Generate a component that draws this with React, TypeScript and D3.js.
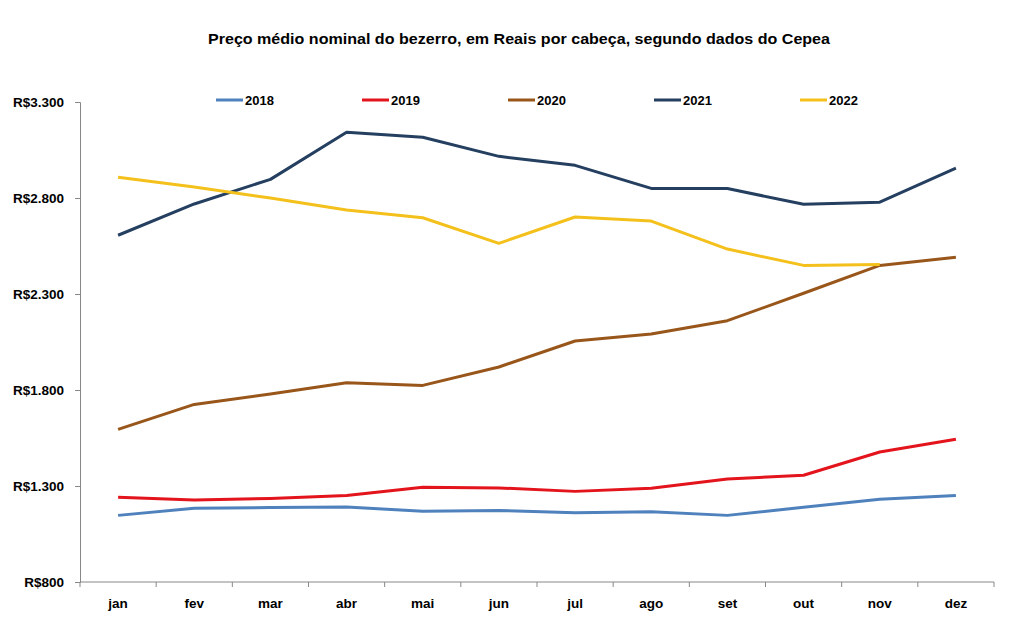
import React, { useEffect, useRef } from "react";
import * as d3 from "d3";

const months = ["jan", "fev", "mar", "abr", "mai", "jun", "jul", "ago", "set", "out", "nov", "dez"];
const yTicks = [800, 1300, 1800, 2300, 2800, 3300];

const years = ["2018", "2019", "2020", "2021", "2022"];
const values2018 = [1147, 1184, 1188, 1191, 1168, 1173, 1161, 1166, 1147, 1189, 1231, 1250];
const values2019 = [1241, 1227, 1235, 1250, 1293, 1290, 1272, 1288, 1336, 1356, 1477, 1543];
const values2020 = [1595, 1725, 1779, 1838, 1824, 1920, 2055, 2092, 2161, 2304, 2449, 2491];
const values2021 = [2606, 2769, 2897, 3142, 3116, 3017, 2970, 2850, 2849, 2767, 2778, 2955];
const values2022 = [2908, 2857, 2800, 2737, 2697, 2564, 2701, 2680, 2534, 2449, 2453];
const colors = ["#4F81BD", "#E3141C", "#99561A", "#243F60", "#F4C01B"];

const title = "Preço médio nominal do bezerro, em Reais por cabeça, segundo dados do Cepea";

const App: React.FC = () => {
  const svgRef = useRef<SVGSVGElement>(null);

  useEffect(() => {
    if (!svgRef.current) return;
    const width = 1012;
    const height = 631;
    const margin = { top: 102, right: 18, bottom: 49, left: 80 };
    const font = "'Liberation Sans', Arial, sans-serif";

    const svg = d3.select(svgRef.current);
    svg.selectAll("*").remove();
    svg
      .attr("width", width)
      .attr("height", height)
      .style("position", "absolute")
      .style("left", "0px")
      .style("top", "0px");

    svg.append("rect").attr("width", width).attr("height", height).attr("fill", "#fff");

    const x = d3
      .scaleBand<string>()
      .domain(months)
      .range([margin.left, width - margin.right]);

    const y = d3
      .scaleLinear()
      .domain([800, 3300])
      .range([height - margin.bottom, margin.top]);

    // title
    svg
      .append("text")
      .attr("x", 519)
      .attr("y", 44)
      .attr("text-anchor", "middle")
      .attr("font-family", font)
      .attr("font-weight", "bold")
      .attr("font-size", 15.5)
      .attr("textLength", 622)
      .attr("lengthAdjust", "spacingAndGlyphs")
      .text(title);

    // y axis
    const yAxis = svg
      .append("g")
      .attr("transform", `translate(${margin.left},0)`)
      .call(
        d3
          .axisLeft(y)
          .tickValues(yTicks)
          .tickSize(5)
          .tickPadding(11)
          .tickFormat((d) => "R$" + d3.format(",")(d as number).replace(/,/g, "."))
      );
    yAxis.select(".domain").attr("stroke", "#888");
    yAxis.selectAll(".tick line").attr("stroke", "#888");
    yAxis
      .selectAll("text")
      .attr("font-family", font)
      .attr("font-weight", "bold")
      .attr("font-size", 13.5)
      .attr("fill", "#000");

    // x axis with ticks on band edges
    const xAxisY = y(800);
    const g = svg.append("g");
    g.append("line")
      .attr("x1", margin.left)
      .attr("x2", width - margin.right)
      .attr("y1", xAxisY)
      .attr("y2", xAxisY)
      .attr("stroke", "#888");
    const edges = months.map((m) => x(m) as number).concat([width - margin.right]);
    edges.forEach((e) => {
      g.append("line")
        .attr("x1", e)
        .attr("x2", e)
        .attr("y1", xAxisY)
        .attr("y2", xAxisY + 5)
        .attr("stroke", "#888");
    });
    months.forEach((m) => {
      g.append("text")
        .attr("x", (x(m) as number) + x.bandwidth() / 2)
        .attr("y", 608)
        .attr("text-anchor", "middle")
        .attr("font-family", font)
        .attr("font-weight", "bold")
        .attr("font-size", 13.5)
        .text(m);
    });

    // lines
    const series = [values2018, values2019, values2020, values2021, values2022];
    const line = d3
      .line<number>()
      .x((_, i) => (x(months[i]) as number) + x.bandwidth() / 2)
      .y((d) => y(d));

    series.forEach((vals, i) => {
      svg
        .append("path")
        .datum(vals)
        .attr("d", line)
        .attr("fill", "none")
        .attr("stroke", colors[i])
        .attr("stroke-width", 3)
        .attr("stroke-linejoin", "round");
    });

    // legend
    const legendX = d3.scalePoint<string>().domain(years).range([216, 800]);
    years.forEach((yr, i) => {
      const lx = legendX(yr) as number;
      svg
        .append("line")
        .attr("x1", lx)
        .attr("x2", lx + 27)
        .attr("y1", 100)
        .attr("y2", 100)
        .attr("stroke", colors[i])
        .attr("stroke-width", 3);
      svg
        .append("text")
        .attr("x", lx + 29)
        .attr("y", 105)
        .attr("font-family", font)
        .attr("font-weight", "bold")
        .attr("font-size", 13)
        .text(yr);
    });
  }, []);

  return <svg ref={svgRef}></svg>;
};

export default App;
